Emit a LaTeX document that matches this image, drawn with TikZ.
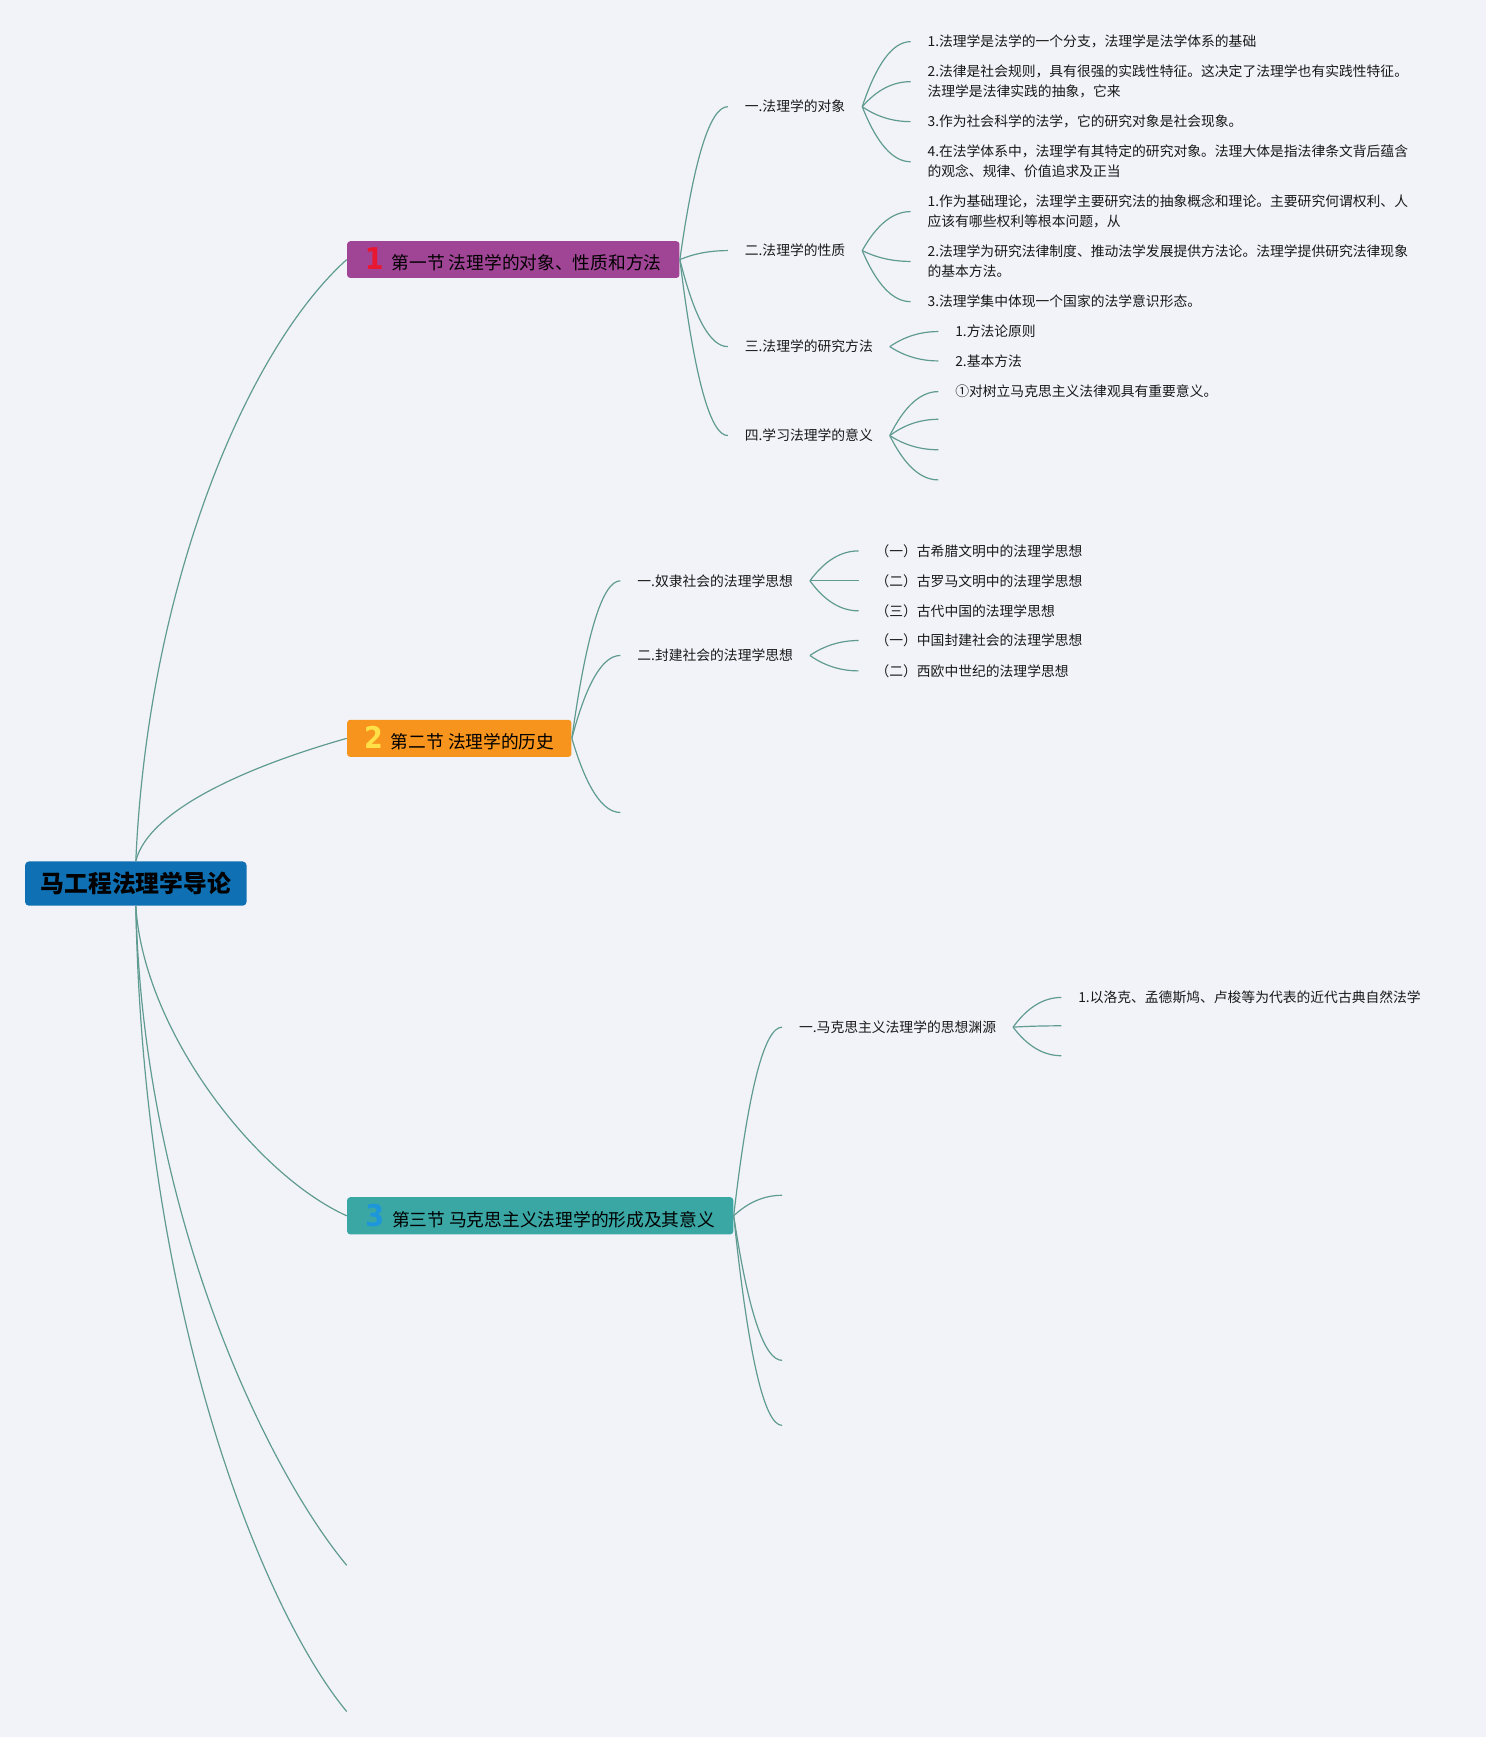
\documentclass[tikz,border=0pt]{standalone}
\usepackage{fontspec}
\setmainfont{Noto Sans CJK SC}
\newfontfamily\numfont{DejaVu Sans Condensed}
\usetikzlibrary{calc}
\definecolor{bgcol}{RGB}{242,243,249}
\definecolor{linkcol}{RGB}{95,155,145}
\definecolor{rootcol}{RGB}{15,113,179}
\definecolor{onecol}{RGB}{160,69,150}
\definecolor{twocol}{RGB}{247,148,29}
\definecolor{threecol}{RGB}{58,167,165}
\definecolor{onenum}{RGB}{232,24,48}
\definecolor{twonum}{RGB}{255,224,71}
\definecolor{threenum}{RGB}{30,150,220}
\newcommand\dpx{0.5542pt}
\newcommand\secnum[2]{{\numfont\bfseries\fontsize{15pt}{15pt}\selectfont\color{#1}#2}\hspace{4pt}}
\newcommand\twig[2]{\draw[link] let \p1=(#1), \p2=(#2) in (\p1) .. controls ({\x1+0.3*(\x2-\x1)},{\y1+0.667*(\y2-\y1)}) and ({\x2-0.367*(\x2-\x1)},\y2) .. (\p2);}
\begin{document}
\begin{tikzpicture}[x=\dpx, y=-\dpx,
            link/.style={draw=linkcol, line width=0.6pt},
            root/.style={rectangle, rounded corners=2pt, fill=rootcol, minimum width=200*\dpx, minimum height=40*\dpx, font=\fontsize{11.9pt}{14pt}\selectfont\bfseries},
            sect/.style={rectangle, rounded corners=1.5pt, anchor=west, minimum height=33*\dpx, inner xsep=15*\dpx, font=\fontsize{8.87pt}{11pt}\selectfont},
            sub/.style={anchor=west, inner xsep=15*\dpx, inner ysep=1pt, align=left, text=black!90, font=\fontsize{6.9pt}{10pt}\selectfont},
        ]
            \fill[bgcol] (0,0) rectangle (1341,1568);
            \useasboundingbox (0,0) rectangle (1341,1568);
            % root and sections
            \node[root](root) at (122.6,797.6) {马工程法理学导论};
            \node[sect, fill=onecol, minimum width=300*\dpx](s1) at (313,234.3) {\secnum{onenum}{1}第一节 法理学的对象、性质和方法};
            \node[sect, fill=twocol, minimum width=202.5*\dpx](s2) at (313,666.5) {\secnum{twonum}{2}第二节 法理学的历史};
            \node[sect, fill=threecol, minimum width=348.6*\dpx](s3) at (313,1097.5) {\secnum{threenum}{3}第三节 马克思主义法理学的形成及其意义};
            \coordinate (r4) at (313,1413);
            \coordinate (r5) at (313,1545);
            % first section
            \node[sub](a1) at (657,96.3) {一.法理学的对象};
            \node[sub](a2) at (657,226.2) {二.法理学的性质};
            \node[sub](a3) at (657,312.9) {三.法理学的研究方法};
            \node[sub](a4) at (657,393.2) {四.学习法理学的意义};
            \node[sub](a11) at (822,37.6) {1.法理学是法学的一个分支，法理学是法学体系的基础};
            \node[sub](a12) at (822,73.7) {2.法律是社会规则，具有很强的实践性特征。这决定了法理学也有实践性特征。\\法理学是法律实践的抽象，它来};
            \node[sub](a13) at (822,109.8) {3.作为社会科学的法学，它的研究对象是社会现象。};
            \node[sub](a14) at (822,146) {4.在法学体系中，法理学有其特定的研究对象。法理大体是指法律条文背后蕴含\\的观念、规律、价值追求及正当};
            \node[sub](a21) at (822,191) {1.作为基础理论，法理学主要研究法的抽象概念和理论。主要研究何谓权利、人\\应该有哪些权利等根本问题，从};
            \node[sub](a22) at (822,236) {2.法理学为研究法律制度、推动法学发展提供方法论。法理学提供研究法律现象\\的基本方法。};
            \node[sub](a23) at (822,272.3) {3.法理学集中体现一个国家的法学意识形态。};
            \node[sub](a31) at (847,299.3) {1.方法论原则};
            \node[sub](a32) at (847,325.8) {2.基本方法};
            \node[sub](a41) at (847,353.5) {①对树立马克思主义法律观具有重要意义。};
            \coordinate (a42) at (847,378.5);
            \coordinate (a43) at (847,406);
            \coordinate (a44) at (847,433.2);
            % second section
            \node[sub](b1) at (560,524.3) {一.奴隶社会的法理学思想};
            \node[sub](b2) at (560,591.7) {二.封建社会的法理学思想};
            \coordinate (b3) at (560,733.4);
            \node[sub](b11) at (775,497.3) {（一）古希腊文明中的法理学思想};
            \node[sub](b12) at (775,524.3) {（二）古罗马文明中的法理学思想};
            \node[sub](b13) at (775,551.4) {（三）古代中国的法理学思想};
            \node[sub](b21) at (775,578.2) {（一）中国封建社会的法理学思想};
            \node[sub](b22) at (775,605.6) {（二）西欧中世纪的法理学思想};
            % third section
            \node[sub](c1) at (706,927.2) {一.马克思主义法理学的思想渊源};
            \coordinate (c2) at (706,1079);
            \coordinate (c3) at (706,1228);
            \coordinate (c4) at (706,1286.7);
            \node[sub](c11) at (958,900.4) {1.以洛克、孟德斯鸠、卢梭等为代表的近代古典自然法学};
            \coordinate (c12) at (958,926);
            \coordinate (c13) at (958,953);
            % connectors
            \draw[link] (root.north) .. controls +(11,-250) and +(-90,81) .. (s1.west);
            \draw[link] (root.north) .. controls +(12,-48) and +(-83,23.5) .. (s2.west);
            \draw[link] (root.south) .. controls +(7,112) and +(-83,-37.5) .. (s3.west);
            \draw[link] (root.south) .. controls +(7,282) and +(-70,-84) .. (r4);
            \draw[link] (root.south) .. controls +(7,382) and +(-70,-84) .. (r5);
            \foreach \src/\dst in {s1.east/a1.west, s1.east/a2.west, s1.east/a3.west, s1.east/a4.west,
                a1.east/a11.west, a1.east/a12.west, a1.east/a13.west, a1.east/a14.west,
                a2.east/a21.west, a2.east/a22.west, a2.east/a23.west,
                a3.east/a31.west, a3.east/a32.west,
                a4.east/a41.west, a4.east/a42, a4.east/a43, a4.east/a44,
                s2.east/b1.west, s2.east/b2.west, s2.east/b3,
                b1.east/b11.west, b1.east/b12.west, b1.east/b13.west,
                b2.east/b21.west, b2.east/b22.west,
                s3.east/c1.west, s3.east/c2, s3.east/c3, s3.east/c4,
                c1.east/c11.west, c1.east/c12, c1.east/c13}
                {\twig{\src}{\dst}}
        \end{tikzpicture}
\end{document}
